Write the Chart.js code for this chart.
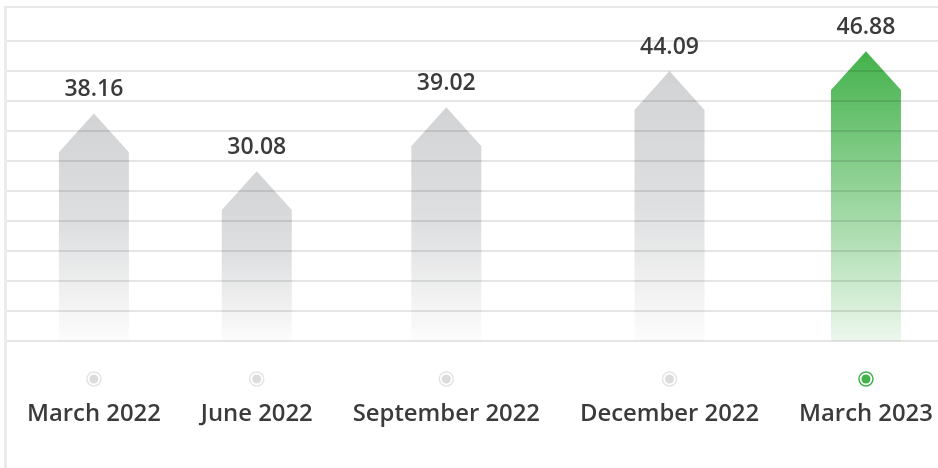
<!DOCTYPE html>
<html>
<head>
<meta charset="utf-8">
<title>Quarterly values</title>
<script src="https://cdn.jsdelivr.net/npm/chart.js@4.4.0/dist/chart.umd.min.js"></script>
<style>
  html, body { margin: 0; padding: 0; background: #fff; overflow: hidden; }
  .chart-wrap {
    position: absolute;
    left: 4px;
    top: 6px;
    width: 931px;
    height: 462px;
    border-left: 3px solid #ececec;
    border-top: 2px solid #e8e8e8;
  }
  canvas { display: block; }
</style>
</head>
<body>
<div class="chart-wrap"><canvas id="quarter-chart" width="931" height="460"></canvas></div>
<script>
const quarters = ['March 2022', 'June 2022', 'September 2022', 'December 2022', 'March 2023'];
const values = [38.16, 30.08, 39.02, 44.09, 46.88];
const highlightIndex = 4; // latest quarter is shown in green

const LABEL_FONT = "600 23.85px 'Open Sans'";
const VALUE_FONT = "600 23px 'Open Sans'";
const TEXT_COLOR = '#3b3b3b';
const GREY = [210, 211, 213];
const GREEN = [67, 178, 75];

// Each column is as wide as its label plus 20px padding either side,
// so the bars sit over the centre of their label like the old html row did.
function columnCentres() {
    const c = document.createElement('canvas').getContext('2d');
    c.font = LABEL_FONT;
    let left = 0;
    return quarters.map(q => {
        const w = c.measureText(q).width + 40;
        const centre = left + w / 2;
        left += w;
        return centre;
    });
}

const rgba = (rgb, a) => `rgba(${rgb[0]}, ${rgb[1]}, ${rgb[2]}, ${a})`;

// Draws every bar as an upward arrow with a fading fill, then the labels
const arrowBars = {
    id: 'arrowBars',
    afterDatasetsDraw(chart) {
        const ctx = chart.ctx;
        const base = chart.chartArea.bottom; // y axis doesn't start at zero
        chart.getDatasetMeta(0).data.forEach((bar, i) => {
            const half = bar.width / 2;
            const shoulder = bar.y + half * 1.11;
            const isHighlight = i === highlightIndex;
            const rgb = isHighlight ? GREEN : GREY;

            const grad = ctx.createLinearGradient(0, bar.y, 0, base);
            if (isHighlight) {
                grad.addColorStop(0, rgba(rgb, 1));
                grad.addColorStop(1, rgba(rgb, 0.1));
            } else {
                grad.addColorStop(0, rgba(rgb, 1));
                grad.addColorStop(0.5, rgba(rgb, 0.72));
                grad.addColorStop(1, rgba(rgb, 0.06));
            }

            ctx.save();
            ctx.fillStyle = grad;
            ctx.beginPath();
            ctx.moveTo(bar.x, bar.y);
            ctx.lineTo(bar.x + half, shoulder);
            ctx.lineTo(bar.x + half, base);
            ctx.lineTo(bar.x - half, base);
            ctx.lineTo(bar.x - half, shoulder);
            ctx.closePath();
            ctx.fill();
            ctx.restore();
        });
    },
    afterDraw(chart) {
        const ctx = chart.ctx;
        const bottom = chart.chartArea.bottom;
        ctx.save();
        ctx.textAlign = 'center';
        ctx.textBaseline = 'alphabetic';

        chart.getDatasetMeta(0).data.forEach((bar, i) => {
            const isHighlight = i === highlightIndex;

            // value above the arrow tip
            ctx.font = VALUE_FONT;
            ctx.fillStyle = TEXT_COLOR;
            ctx.fillText(values[i].toFixed(2), bar.x, bar.y - 17);

            // radio style marker
            const my = bottom + 38;
            ctx.beginPath();
            ctx.arc(bar.x, my, 7, 0, Math.PI * 2);
            ctx.lineWidth = 1.5;
            ctx.strokeStyle = isHighlight ? rgba(GREEN, 1) : '#e4e4e4';
            ctx.stroke();
            ctx.beginPath();
            ctx.arc(bar.x, my, 4.5, 0, Math.PI * 2);
            ctx.fillStyle = isHighlight ? rgba(GREEN, 1) : '#dcdcdc';
            ctx.fill();

            // quarter name
            ctx.font = LABEL_FONT;
            ctx.fillStyle = TEXT_COLOR;
            ctx.fillText(quarters[i], bar.x, bottom + 80);
        });
        ctx.restore();
    }
};

const centres = columnCentres();

new Chart(document.getElementById('quarter-chart'), {
    type: 'bar',
    data: {
        datasets: [{
            data: values.map((v, i) => ({ x: centres[i], y: v })),
            backgroundColor: 'transparent',
            borderWidth: 0,
            barThickness: 70
        }]
    },
    options: {
        responsive: false,
        animation: false,
        layout: { padding: { top: 33, bottom: 127, left: 0, right: 0 } },
        plugins: { legend: { display: false }, tooltip: { enabled: false } },
        scales: {
            x: {
                type: 'linear',
                display: false,
                offset: false,
                min: 0,
                max: 931
            },
            y: {
                min: 6.3,
                max: 48.3,
                beginAtZero: false,
                border: { display: false },
                ticks: { display: false, count: 11 },
                grid: { color: 'rgba(0, 0, 0, 0.1)', lineWidth: 2, drawTicks: false, z: 1 }
            }
        }
    },
    plugins: [arrowBars]
});
</script>
</body>
</html>
